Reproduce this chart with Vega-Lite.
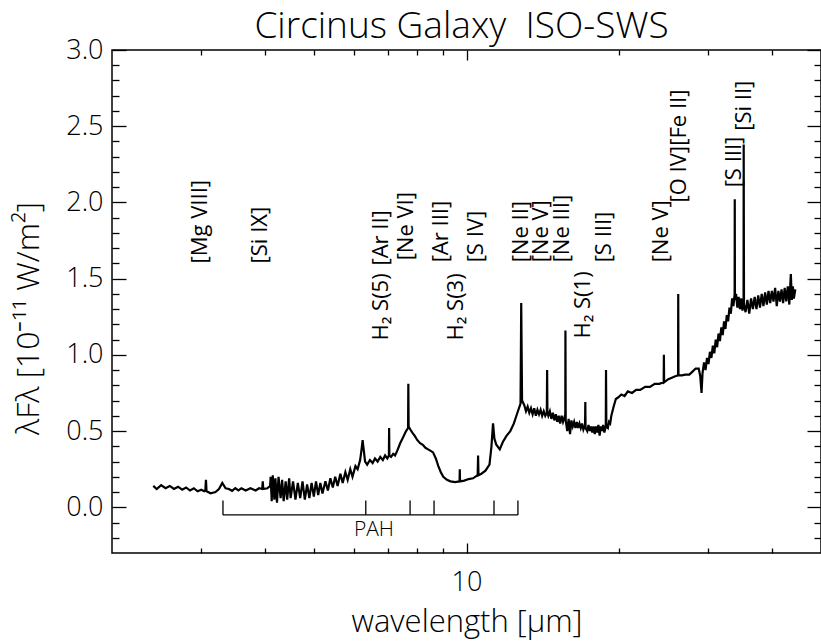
{
  "$schema": "https://vega.github.io/schema/vega-lite/v6.json",
  "width": 709,
  "height": 503,
  "autosize": {"type": "none"},
  "padding": {"left": 112, "top": 50, "right": 0, "bottom": 89},
  "background": "white",
  "config": {
    "view": {"stroke": "black", "strokeWidth": 1.5},
    "font": "Open Sans",
    "axis": {"domain": false, "grid": false, "tickColor": "black", "tickWidth": 1.3, "labelColor": "black", "titleColor": "black", "labelFont": "Open Sans", "titleFont": "Open Sans", "labelFontWeight": 300, "titleFontWeight": 300}
  },
  "title": {"text": "Circinus Galaxy\u00a0\u00a0ISO-SWS", "fontSize": 37, "fontWeight": 300, "font": "Open Sans", "color": "black", "offset": 8, "dx": -5, "dy": 18},
  "datasets": {
    "spec": [
      {"w":2.412,"f":0.14},{"w":2.45,"f":0.12},{"w":2.5,"f":0.145},{"w":2.55,"f":0.125},{"w":2.6,"f":0.14},{"w":2.65,"f":0.12},{"w":2.7,"f":0.135},{"w":2.75,"f":0.115},{"w":2.8,"f":0.13},{"w":2.85,"f":0.11},{"w":2.9,"f":0.125},{"w":2.95,"f":0.105},{"w":3.0,"f":0.115},{"w":3.04,"f":0.105},{"w":3.055,"f":0.11},{"w":3.064,"f":0.18},{"w":3.072,"f":0.105},{"w":3.13,"f":0.092},{"w":3.2,"f":0.1},{"w":3.25,"f":0.12},{"w":3.3,"f":0.16},{"w":3.35,"f":0.125},{"w":3.4,"f":0.12},{"w":3.45,"f":0.108},{"w":3.5,"f":0.125},{"w":3.55,"f":0.11},{"w":3.6,"f":0.125},{"w":3.67,"f":0.11},{"w":3.75,"f":0.125},{"w":3.84,"f":0.11},{"w":3.9,"f":0.125},{"w":3.955,"f":0.12},{"w":3.965,"f":0.17},{"w":3.975,"f":0.12},{"w":4.05,"f":0.125},{"w":4.1,"f":0.14},
      {"w":4.11,"f":0.2},{"w":4.13,"f":0.04},{"w":4.15,"f":0.21},{"w":4.18,"f":0.05},{"w":4.2,"f":0.19},{"w":4.23,"f":0.03},{"w":4.26,"f":0.2},{"w":4.3,"f":0.06},{"w":4.33,"f":0.18},{"w":4.36,"f":0.04},{"w":4.4,"f":0.17},{"w":4.43,"f":0.05},{"w":4.47,"f":0.19},{"w":4.5,"f":0.06},{"w":4.55,"f":0.17},{"w":4.6,"f":0.05},{"w":4.65,"f":0.16},{"w":4.7,"f":0.06},{"w":4.75,"f":0.17},{"w":4.8,"f":0.05},{"w":4.85,"f":0.15},{"w":4.9,"f":0.06},{"w":4.95,"f":0.16},{"w":5.0,"f":0.07},{"w":5.05,"f":0.17},{"w":5.1,"f":0.08},{"w":5.15,"f":0.16},{"w":5.2,"f":0.09},
      {"w":5.27,"f":0.17},{"w":5.33,"f":0.11},{"w":5.39,"f":0.19},{"w":5.45,"f":0.13},{"w":5.51,"f":0.2},{"w":5.57,"f":0.14},{"w":5.64,"f":0.22},{"w":5.7,"f":0.16},{"w":5.77,"f":0.23},{"w":5.83,"f":0.18},{"w":5.9,"f":0.25},{"w":5.96,"f":0.2},{"w":6.04,"f":0.27},{"w":6.1,"f":0.25},{"w":6.17,"f":0.31},{"w":6.21,"f":0.38},{"w":6.24,"f":0.44},{"w":6.27,"f":0.38},{"w":6.31,"f":0.3},{"w":6.37,"f":0.28},{"w":6.45,"f":0.31},{"w":6.53,"f":0.29},{"w":6.6,"f":0.32},{"w":6.68,"f":0.3},{"w":6.76,"f":0.33},{"w":6.84,"f":0.31},{"w":6.91,"f":0.34},{"w":6.98,"f":0.32},{"w":7.03,"f":0.34},{"w":7.038,"f":0.52},{"w":7.046,"f":0.34},{"w":7.1,"f":0.33},{"w":7.17,"f":0.35},{"w":7.23,"f":0.34},{"w":7.3,"f":0.37},{"w":7.4,"f":0.42},{"w":7.5,"f":0.46},{"w":7.6,"f":0.5},{"w":7.67,"f":0.52},{"w":7.679,"f":0.81},{"w":7.69,"f":0.53},{"w":7.75,"f":0.51},{"w":7.82,"f":0.49},{"w":7.9,"f":0.47},{"w":8.0,"f":0.44},{"w":8.1,"f":0.42},{"w":8.2,"f":0.41},{"w":8.3,"f":0.39},{"w":8.4,"f":0.38},{"w":8.5,"f":0.37},{"w":8.59,"f":0.36},{"w":8.7,"f":0.32},{"w":8.8,"f":0.27},{"w":8.9,"f":0.23},{"w":9.0,"f":0.2},{"w":9.15,"f":0.18},{"w":9.3,"f":0.17},{"w":9.5,"f":0.165},{"w":9.69,"f":0.17},{"w":9.7,"f":0.25},{"w":9.71,"f":0.17},{"w":9.9,"f":0.175},{"w":10.1,"f":0.185},{"w":10.3,"f":0.19},{"w":10.52,"f":0.21},{"w":10.54,"f":0.34},{"w":10.56,"f":0.21},{"w":10.7,"f":0.22},{"w":10.9,"f":0.24},{"w":11.1,"f":0.28},{"w":11.2,"f":0.4},{"w":11.28,"f":0.55},{"w":11.35,"f":0.45},{"w":11.45,"f":0.41},{"w":11.63,"f":0.38},{"w":11.8,"f":0.43},{"w":12.0,"f":0.47},{"w":12.2,"f":0.5},{"w":12.4,"f":0.55},{"w":12.6,"f":0.62},{"w":12.78,"f":0.68},{"w":12.82,"f":1.34},{"w":12.87,"f":0.7},
      {"w":13.0,"f":0.67},{"w":13.1,"f":0.63},{"w":13.2,"f":0.66},{"w":13.3,"f":0.62},{"w":13.4,"f":0.65},{"w":13.5,"f":0.61},{"w":13.6,"f":0.65},{"w":13.7,"f":0.6},{"w":13.8,"f":0.64},{"w":13.9,"f":0.61},{"w":14.0,"f":0.64},{"w":14.1,"f":0.6},{"w":14.2,"f":0.63},{"w":14.3,"f":0.6},{"w":14.4,"f":0.62},{"w":14.42,"f":0.9},{"w":14.44,"f":0.62},{"w":14.5,"f":0.6},{"w":14.6,"f":0.63},{"w":14.7,"f":0.58},{"w":14.8,"f":0.62},{"w":14.9,"f":0.57},{"w":15.0,"f":0.61},{"w":15.1,"f":0.56},{"w":15.2,"f":0.6},{"w":15.3,"f":0.55},{"w":15.4,"f":0.6},{"w":15.5,"f":0.56},{"w":15.6,"f":0.59},{"w":15.66,"f":0.58},{"w":15.67,"f":1.16},{"w":15.69,"f":0.57},{"w":15.8,"f":0.5},{"w":15.9,"f":0.58},{"w":16.0,"f":0.48},{"w":16.1,"f":0.57},{"w":16.2,"f":0.53},{"w":16.3,"f":0.56},{"w":16.4,"f":0.52},{"w":16.5,"f":0.56},{"w":16.6,"f":0.52},{"w":16.7,"f":0.55},{"w":16.8,"f":0.52},{"w":16.9,"f":0.55},{"w":17.0,"f":0.51},{"w":17.13,"f":0.54},{"w":17.15,"f":0.69},{"w":17.17,"f":0.52},{"w":17.3,"f":0.5},{"w":17.4,"f":0.54},{"w":17.5,"f":0.5},{"w":17.6,"f":0.53},{"w":17.7,"f":0.49},{"w":17.8,"f":0.53},{"w":17.9,"f":0.48},{"w":18.0,"f":0.53},{"w":18.1,"f":0.49},{"w":18.2,"f":0.54},{"w":18.3,"f":0.47},{"w":18.4,"f":0.53},{"w":18.5,"f":0.5},{"w":18.6,"f":0.54},{"w":18.7,"f":0.49},{"w":18.82,"f":0.53},{"w":18.84,"f":0.9},{"w":18.87,"f":0.53},{"w":19.0,"f":0.52},{"w":19.1,"f":0.56},{"w":19.2,"f":0.55},
      {"w":19.3,"f":0.6},{"w":19.5,"f":0.66},{"w":19.7,"f":0.71},{"w":19.9,"f":0.72},{"w":20.2,"f":0.74},{"w":20.5,"f":0.73},{"w":20.8,"f":0.76},{"w":21.2,"f":0.75},{"w":21.6,"f":0.77},{"w":22.0,"f":0.77},{"w":22.5,"f":0.79},{"w":23.0,"f":0.79},{"w":23.5,"f":0.81},{"w":24.0,"f":0.81},{"w":24.48,"f":0.82},{"w":24.5,"f":1.0},{"w":24.53,"f":0.82},{"w":25.0,"f":0.84},{"w":25.4,"f":0.85},{"w":25.8,"f":0.86},{"w":26.13,"f":0.865},{"w":26.15,"f":1.4},{"w":26.18,"f":0.865},{"w":26.6,"f":0.865},{"w":27.0,"f":0.87},{"w":27.5,"f":0.87},{"w":27.9,"f":0.89},{"w":28.3,"f":0.91},
      {"w":28.7,"f":0.91},{"w":28.9,"f":0.86},{"w":29.07,"f":0.75},{"w":29.2,"f":0.88},{"w":29.4,"f":0.95},{"w":29.6,"f":0.9},{"w":29.8,"f":0.98},{"w":30.0,"f":0.94},{"w":30.2,"f":1.02},{"w":30.4,"f":0.98},{"w":30.6,"f":1.06},{"w":30.8,"f":1.01},{"w":31.0,"f":1.1},{"w":31.2,"f":1.05},{"w":31.4,"f":1.14},{"w":31.6,"f":1.09},{"w":31.8,"f":1.18},{"w":32.0,"f":1.13},{"w":32.2,"f":1.22},{"w":32.4,"f":1.17},{"w":32.6,"f":1.26},{"w":32.8,"f":1.22},{"w":33.0,"f":1.31},{"w":33.2,"f":1.27},{"w":33.4,"f":1.37},{"w":33.6,"f":1.32},{"w":33.78,"f":1.4},{"w":33.8,"f":2.02},{"w":33.83,"f":1.36},{"w":34.0,"f":1.4},{"w":34.2,"f":1.31},{"w":34.4,"f":1.38},{"w":34.6,"f":1.3},{"w":34.8,"f":1.37},{"w":35.0,"f":1.29},{"w":35.18,"f":1.36},{"w":35.2,"f":2.38},{"w":35.25,"f":1.33},{"w":35.5,"f":1.28},{"w":35.8,"f":1.36},{"w":36.1,"f":1.27},{"w":36.4,"f":1.37},{"w":36.7,"f":1.3},{"w":37.0,"f":1.38},{"w":37.3,"f":1.3},{"w":37.6,"f":1.39},{"w":37.9,"f":1.31},{"w":38.2,"f":1.4},{"w":38.5,"f":1.32},{"w":38.8,"f":1.41},{"w":39.1,"f":1.33},{"w":39.4,"f":1.42},{"w":39.7,"f":1.34},{"w":40.0,"f":1.42},{"w":40.3,"f":1.35},{"w":40.6,"f":1.44},{"w":40.9,"f":1.32},{"w":41.2,"f":1.42},{"w":41.5,"f":1.35},{"w":41.8,"f":1.43},{"w":42.1,"f":1.34},{"w":42.4,"f":1.44},{"w":42.7,"f":1.35},{"w":43.0,"f":1.45},{"w":43.3,"f":1.33},{"w":43.6,"f":1.53},{"w":43.8,"f":1.36},{"w":44.0,"f":1.45},{"w":44.2,"f":1.37},{"w":44.5,"f":1.43}
    ],
    "labels": [
      {"t":"[Mg VIII]","w":3.08,"y":1.6},
      {"t":"[Si IX]","w":4.05,"y":1.6},
      {"t":"H₂ S(5)","w":7.01,"y":1.094},
      {"t":"[Ar II]","w":7.01,"y":1.586},
      {"t":"[Ne VI]","w":7.84,"y":1.62},
      {"t":"[Ar III]","w":9.19,"y":1.607},
      {"t":"H₂ S(3)","w":9.83,"y":1.094},
      {"t":"[S IV]","w":10.77,"y":1.607},
      {"t":"[Ne II]","w":13.2,"y":1.607},
      {"t":"[Ne V]","w":14.47,"y":1.607},
      {"t":"[Ne III]","w":15.92,"y":1.607},
      {"t":"H₂ S(1)","w":17.48,"y":1.107},
      {"t":"[S III]","w":19.29,"y":1.607},
      {"t":"[Ne V]","w":24.93,"y":1.607},
      {"t":"[O IV]","w":27.1,"y":2.0},
      {"t":"[Fe II]","w":27.1,"y":2.372},
      {"t":"[S III]","w":34.76,"y":2.099},
      {"t":"[Si II]","w":36.38,"y":2.47}
    ],
    "pahbar": [{"x1":3.31,"x2":12.63,"y":-0.05}],
    "pahticks": [
      {"x":3.31,"y1":-0.05,"y2":0.045},
      {"x":6.33,"y1":-0.05,"y2":0.045},
      {"x":7.74,"y1":-0.05,"y2":0.045},
      {"x":8.63,"y1":-0.05,"y2":0.045},
      {"x":11.33,"y1":-0.05,"y2":0.045},
      {"x":12.63,"y1":-0.05,"y2":0.045}
    ],
    "pahlabel": [{"t":"PAH","x":6.57,"y":-0.15}]
  },
  "resolve": {"axis": {"x": "independent", "y": "independent"}},
  "layer": [
    {
      "data": {"name": "spec"},
      "mark": {"type": "line", "color": "black", "strokeWidth": 2.2, "clip": true},
      "encoding": {
        "x": {"field": "w", "type": "quantitative", "scale": {"type": "log", "domain": [2, 50], "nice": false},
          "axis": {"orient": "bottom", "values": [10], "format": ".0f", "ticks": false, "labelFontSize": 27, "labelPadding": 16, "title": "wavelength [μm]", "titleFontSize": 31, "titlePadding": 12}},
        "y": {"field": "f", "type": "quantitative", "scale": {"domain": [-0.3, 3.0], "nice": false, "zero": false},
          "axis": {"orient": "left", "values": [0, 0.5, 1, 1.5, 2, 2.5, 3], "format": ".1f", "ticks": false, "labelFontSize": 27, "labelPadding": 9, "title": "λFλ [10⁻¹¹ W/m²]", "titleFontSize": 32, "titlePadding": 20, "titleY": 268}}
      }
    },
    {
      "data": {"name": "pahbar"},
      "mark": {"type": "rule", "color": "black", "strokeWidth": 1.3},
      "encoding": {
        "x": {"field": "x1", "type": "quantitative", "scale": {"type": "log", "domain": [2, 50], "nice": false},
          "axis": {"orient": "bottom", "values": [10], "labels": false, "tickSize": -10, "title": null}},
        "x2": {"field": "x2"},
        "y": {"field": "y", "type": "quantitative", "scale": {"domain": [-0.3, 3.0], "nice": false, "zero": false},
          "axis": {"orient": "left", "values": [0, 0.5, 1, 1.5, 2, 2.5, 3], "labels": false, "tickSize": -14, "title": null}}
      }
    },
    {
      "data": {"name": "pahticks"},
      "mark": {"type": "rule", "color": "black", "strokeWidth": 1.3},
      "encoding": {
        "x": {"field": "x", "type": "quantitative", "scale": {"type": "log", "domain": [2, 50], "nice": false},
          "axis": {"orient": "bottom", "values": [3, 4, 5, 6, 7, 8, 9, 20, 30, 40], "labels": false, "tickSize": -5, "title": null}},
        "y": {"field": "y1", "type": "quantitative", "scale": {"domain": [-0.3, 3.0], "nice": false, "zero": false},
          "axis": {"orient": "left", "values": [-0.2, -0.1, 0.1, 0.2, 0.3, 0.4, 0.6, 0.7, 0.8, 0.9, 1.1, 1.2, 1.3, 1.4, 1.6, 1.7, 1.8, 1.9, 2.1, 2.2, 2.3, 2.4, 2.6, 2.7, 2.8, 2.9], "labels": false, "tickSize": -7, "title": null}},
        "y2": {"field": "y2"}
      }
    },
    {
      "data": {"name": "labels"},
      "mark": {"type": "text", "angle": 270, "align": "left", "baseline": "alphabetic", "fontSize": 22, "font": "Open Sans", "fontWeight": 400, "color": "black"},
      "encoding": {
        "x": {"field": "w", "type": "quantitative", "scale": {"type": "log", "domain": [2, 50], "nice": false},
          "axis": {"orient": "top", "values": [10], "labels": false, "tickSize": -10, "title": null}},
        "y": {"field": "y", "type": "quantitative", "scale": {"domain": [-0.3, 3.0], "nice": false, "zero": false},
          "axis": {"orient": "right", "values": [0, 0.5, 1, 1.5, 2, 2.5, 3], "labels": false, "tickSize": -14, "title": null}},
        "text": {"field": "t"}
      }
    },
    {
      "data": {"name": "pahlabel"},
      "mark": {"type": "text", "align": "center", "baseline": "middle", "fontSize": 21, "font": "Open Sans", "fontWeight": 300, "color": "black"},
      "encoding": {
        "x": {"field": "x", "type": "quantitative", "scale": {"type": "log", "domain": [2, 50], "nice": false},
          "axis": {"orient": "top", "values": [3, 4, 5, 6, 7, 8, 9, 20, 30, 40], "labels": false, "tickSize": -5, "title": null}},
        "y": {"field": "y", "type": "quantitative", "scale": {"domain": [-0.3, 3.0], "nice": false, "zero": false},
          "axis": {"orient": "right", "values": [-0.2, -0.1, 0.1, 0.2, 0.3, 0.4, 0.6, 0.7, 0.8, 0.9, 1.1, 1.2, 1.3, 1.4, 1.6, 1.7, 1.8, 1.9, 2.1, 2.2, 2.3, 2.4, 2.6, 2.7, 2.8, 2.9], "labels": false, "tickSize": -7, "title": null}},
        "text": {"field": "t"}
      }
    }
  ]
}
